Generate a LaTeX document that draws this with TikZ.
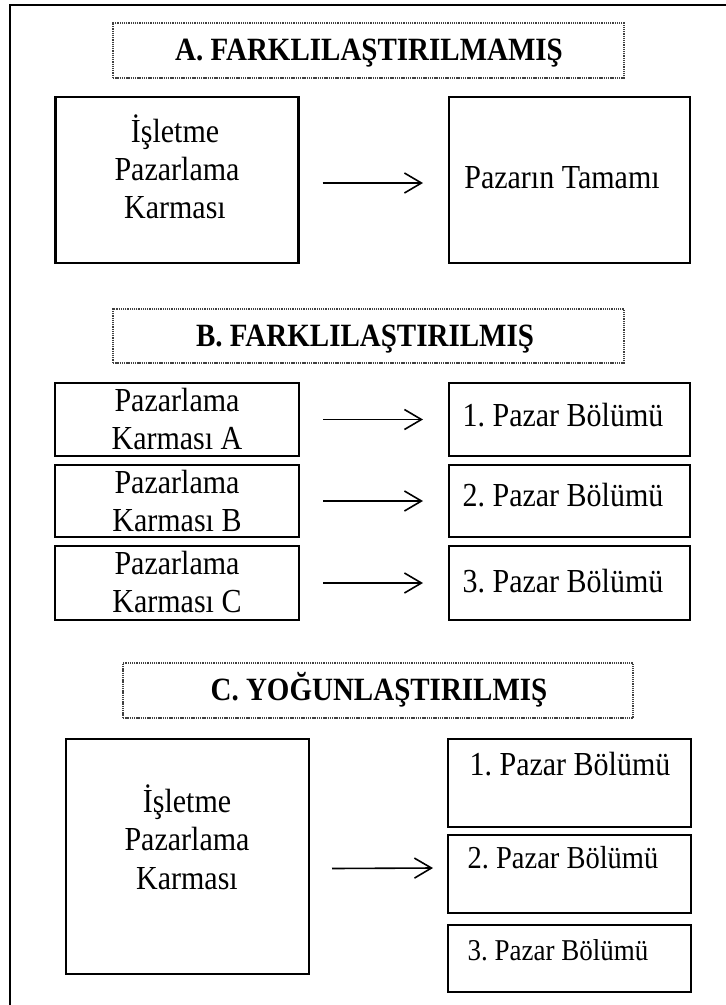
\documentclass[tikz,border=0pt]{standalone}
\usepackage{fontspec}
\usepackage{graphicx}
\setmainfont{Liberation Serif}
\frenchspacing
\usetikzlibrary{arrows.meta}
\newcommand{\vst}[1]{\scalebox{1}[1.12]{#1}}
\begin{document}
\begin{tikzpicture}[x=1pt,y=-1pt,
  bx/.style={draw, line width=2.2pt, rectangle, inner sep=0pt, outer sep=0pt},
  tbox/.style={draw=black!75, line width=1.3pt, dash pattern=on 1.3pt off 0.9pt, rectangle, inner sep=0pt, outer sep=0pt},
  ttl/.style={anchor=base, inner sep=0pt, font=\fontsize{29}{34}\selectfont\bfseries},
  txt/.style={anchor=base, inner sep=0pt, font=\fontsize{30}{36}\selectfont},
  arr/.style={line width=1.6pt, -{Straight Barb[length=17pt,width=20pt,line width=1.6pt]}},
  frame/.style={line width=2.2pt}]
\useasboundingbox (0,0) rectangle (726,1005);
\clip (0,0) rectangle (726,1005);
\fill[white] (0,0) rectangle (726,1005);
% outer frame (right and bottom sides fall outside the picture)
\coordinate (fr1) at (740,5);
\coordinate (fr2) at (10,5);
\coordinate (fr3) at (10,1020);
\draw[frame] (fr1) -- (fr2) -- (fr3);

% ---------- A ----------
\node[tbox, minimum width=511pt, minimum height=55pt] (tA) at (368.5,50.5) {};
\node[ttl] (tAt) at (369,60) {\vst{A. FARKLILAŞTIRILMAMIŞ}};
\node[bx, minimum width=243pt, minimum height=166pt] (aL) at (177,180) {};
\node[txt] (aL1) at (175,142) {\vst{İşletme}};
\node[txt] (aL2) at (177,180) {\vst{Pazarlama}};
\node[txt] (aL3) at (175,218) {\vst{Karması}};
\node[bx, minimum width=241pt, minimum height=166pt] (aR) at (569.5,180) {};
\node[txt] (aR1) at (562,188) {\vst{Pazarın Tamamı}};
\draw[arr] ([shift={(24,3)}]aL.east) -- ([shift={(-26,3)}]aR.west);

% ---------- B ----------
\node[tbox, minimum width=511pt, minimum height=54pt] (tB) at (368.5,336) {};
\node[ttl] (tBt) at (365,346) {\vst{B. FARKLILAŞTIRILMIŞ}};

\node[bx, minimum width=244pt, minimum height=73pt] (b1L) at (177,419.5) {};
\node[bx, minimum width=241pt, minimum height=73pt] (b1R) at (569.5,419.5) {};
\node[txt] (b1L1) at (177,411) {\vst{Pazarlama}};
\node[txt] (b1L2) at (177,449) {\vst{Karması A}};
\node[txt] (b1R1) at (563,426) {\vst{1. Pazar Bölümü}};
\draw[arr] ([xshift=24pt]b1L.east) -- ([xshift=-26pt]b1R.west);

\node[bx, minimum width=244pt, minimum height=72pt] (b2L) at (177,501) {};
\node[bx, minimum width=241pt, minimum height=72pt] (b2R) at (569.5,501) {};
\node[txt] (b2L1) at (177,493) {\vst{Pazarlama}};
\node[txt] (b2L2) at (177,531) {\vst{Karması B}};
\node[txt] (b2R1) at (563,506) {\vst{2. Pazar Bölümü}};
\draw[arr] ([xshift=24pt]b2L.east) -- ([xshift=-26pt]b2R.west);

\node[bx, minimum width=244pt, minimum height=74pt] (b3L) at (177,583) {};
\node[bx, minimum width=241pt, minimum height=74pt] (b3R) at (569.5,583) {};
\node[txt] (b3L1) at (177,574) {\vst{Pazarlama}};
\node[txt] (b3L2) at (177,612) {\vst{Karması C}};
\node[txt] (b3R1) at (563,592) {\vst{3. Pazar Bölümü}};
\draw[arr] ([xshift=24pt]b3L.east) -- ([xshift=-26pt]b3R.west);

% ---------- C ----------
\node[tbox, minimum width=510pt, minimum height=55pt] (tC) at (378,690.5) {};
\node[ttl] (tCt) at (379,700) {\vst{C. YOĞUNLAŞTIRILMIŞ}};
\node[bx, minimum width=243pt, minimum height=235pt] (cL) at (187.5,856.5) {};
\node[txt] (cL1) at (187,812) {\vst{İşletme}};
\node[txt] (cL2) at (187,850) {\vst{Pazarlama}};
\node[txt] (cL3) at (187,889) {\vst{Karması}};
\node[bx, minimum width=243pt, minimum height=88pt] (cR1) at (569.5,783) {};
\node[txt] (cR1t) at (570,775) {\vst{1. Pazar Bölümü}};
\node[bx, minimum width=243pt, minimum height=78pt] (cR2) at (569.5,874) {};
\node[txt, font=\fontsize{28.5}{34}\selectfont] (cR2t) at (563,868) {\vst{2. Pazar Bölümü}};
\node[bx, minimum width=243pt, minimum height=67pt] (cR3) at (569.5,958.5) {};
\node[txt, font=\fontsize{27}{32}\selectfont] (cR3t) at (558,960) {\vst{3. Pazar Bölümü}};
\draw[arr] ([shift={(23,12)}]cL.east) -- ([shift={(-15,-6)}]cR2.west);
\end{tikzpicture}
\end{document}
